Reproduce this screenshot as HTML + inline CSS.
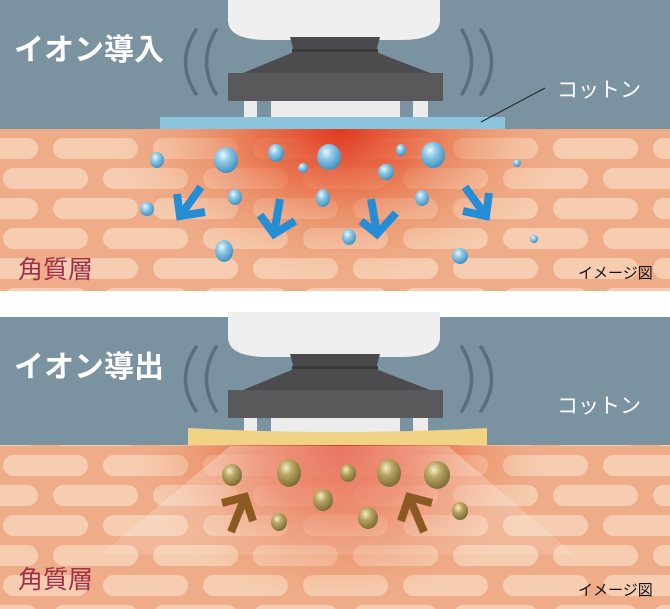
<!DOCTYPE html>
<html><head><meta charset="utf-8"><style>
html,body{margin:0;padding:0;background:#fff}
svg{display:block}
text{font-family:"Liberation Sans","Noto Sans CJK JP",sans-serif}
</style></head><body>
<svg width="670" height="609" viewBox="0 0 670 609" xmlns="http://www.w3.org/2000/svg">
<defs>
<pattern id="bricks" x="0" y="14" width="100" height="60" patternUnits="userSpaceOnUse">
<rect x="-47" y="4" width="85" height="21" rx="10.5" fill="#f6cdb0"/>
<rect x="53" y="4" width="85" height="21" rx="10.5" fill="#f6cdb0"/>
<rect x="3" y="34" width="85" height="21" rx="10.5" fill="#f6cdb0"/>
</pattern>
<pattern id="bricks2" x="0" y="1" width="100" height="60" patternUnits="userSpaceOnUse">
<rect x="-47" y="4" width="85" height="21" rx="10.5" fill="#f6cdb0"/>
<rect x="53" y="4" width="85" height="21" rx="10.5" fill="#f6cdb0"/>
<rect x="3" y="34" width="85" height="21" rx="10.5" fill="#f6cdb0"/>
</pattern>
<radialGradient id="glow1" cx="340" cy="132" r="230" gradientUnits="userSpaceOnUse" gradientTransform="translate(340 132) scale(1 0.65) translate(-340 -132)">
<stop offset="0" stop-color="#e03a22" stop-opacity="1"/>
<stop offset="0.35" stop-color="#e65e38" stop-opacity="0.75"/>
<stop offset="0.7" stop-color="#ea8a60" stop-opacity="0.35"/>
<stop offset="1" stop-color="#eeac88" stop-opacity="0"/>
</radialGradient>
<radialGradient id="glow2" cx="340" cy="448" r="210" gradientUnits="userSpaceOnUse" gradientTransform="translate(340 448) scale(1 0.75) translate(-340 -448)">
<stop offset="0" stop-color="#e03a22" stop-opacity="1"/>
<stop offset="0.4" stop-color="#e65e38" stop-opacity="0.75"/>
<stop offset="0.75" stop-color="#ea8a60" stop-opacity="0.3"/>
<stop offset="1" stop-color="#eeac88" stop-opacity="0"/>
</radialGradient>
<radialGradient id="drop" cx="0.38" cy="0.32" r="0.7">
<stop offset="0" stop-color="#e8f6fc"/>
<stop offset="0.4" stop-color="#8cc8e6"/>
<stop offset="1" stop-color="#3f8fc0"/>
</radialGradient>
<radialGradient id="part" cx="0.38" cy="0.32" r="0.7">
<stop offset="0" stop-color="#f4eec0"/>
<stop offset="0.4" stop-color="#b8a464"/>
<stop offset="1" stop-color="#7a6a30"/>
</radialGradient>
<linearGradient id="beam" x1="0" y1="0" x2="0" y2="1">
<stop offset="0" stop-color="#fff" stop-opacity="0.3"/>
<stop offset="1" stop-color="#fff" stop-opacity="0.12"/>
</linearGradient>
<g id="device">
<path d="M228 -5 H440 V20 Q440 40 400 40 H268 Q228 40 228 20 Z" fill="#efefef"/>
<path d="M290 37 H380 L376 52 H294 Z" fill="#4a4a4c"/>
<rect x="292" y="49" width="86" height="4" fill="#3a3a3c"/>
<path d="M294 52 H376 L430 73 H243 Z" fill="#4c4c4e"/>
<rect x="228" y="73" width="215" height="28" fill="#59595b"/>
<rect x="244" y="101" width="13" height="16" fill="#ececec"/>
<rect x="271" y="101" width="129" height="16" fill="#ececec"/>
<rect x="413" y="101" width="15" height="16" fill="#ececec"/>
<g fill="none" stroke="#56707e" stroke-width="3.5" stroke-linecap="round">
<path d="M196 30 Q175 62 196 94"/><path d="M216 30 Q197 62 216 94"/>
<path d="M462 30 Q481 62 462 94"/><path d="M481 30 Q502 62 481 94"/>
</g>
</g>
</defs>

<!-- TOP PANEL -->
<rect x="0" y="0" width="670" height="130" fill="#7b93a0"/>
<rect x="0" y="129" width="670" height="162" fill="#eeac88"/>
<rect x="0" y="129" width="670" height="162" fill="url(#bricks)"/>
<rect x="0" y="129" width="670" height="162" fill="url(#glow1)"/>
<use href="#device"/>
<rect x="160" y="117" width="345" height="12" fill="#8cc4de"/>
<line x1="545" y1="88" x2="481" y2="122" stroke="#222" stroke-width="1"/>
<text x="14" y="60" font-size="30" font-weight="bold" fill="#fff">イオン導入</text>
<text x="557" y="97" font-size="21" fill="#fff">コットン</text>
<text x="18" y="278" font-size="25" fill="#a03048">角質層</text>
<text x="578" y="278" font-size="15" fill="#111">イメージ図</text>
<g fill="url(#drop)">
<ellipse cx="157" cy="160" rx="7" ry="8"/><ellipse cx="226" cy="160" rx="12" ry="13"/>
<ellipse cx="276" cy="153" rx="8" ry="9"/><ellipse cx="329" cy="157" rx="12" ry="13"/>
<ellipse cx="401" cy="150" rx="5" ry="6"/><ellipse cx="433" cy="155" rx="12" ry="13"/>
<ellipse cx="303" cy="168" rx="5" ry="5"/><ellipse cx="386" cy="172" rx="8" ry="8"/>
<ellipse cx="517" cy="163" rx="4" ry="4"/><ellipse cx="235" cy="197" rx="7" ry="8"/>
<ellipse cx="323" cy="198" rx="7" ry="9"/><ellipse cx="422" cy="198" rx="7" ry="8"/>
<ellipse cx="147" cy="209" rx="7" ry="7"/><ellipse cx="349" cy="237" rx="7" ry="8"/>
<ellipse cx="224" cy="251" rx="9" ry="11"/><ellipse cx="460" cy="256" rx="8" ry="8"/>
<ellipse cx="534" cy="239" rx="4" ry="4"/>
</g>
<g fill="none" stroke="#238ed6" stroke-width="8" stroke-linejoin="miter" stroke-miterlimit="10">
<path d="M201 187 L180 216 M177 194 L180 216 L205 212"/>
<path d="M280 199 L274 234 M260 215 L274 234 L295 221"/>
<path d="M371 199 L377 234 M361 221 L377 234 L396 213"/>
<path d="M465 187 L486 216 M463 211 L486 216 L489 193"/>
</g>

<!-- gap -->
<rect x="0" y="291" width="670" height="27" fill="#fff"/>

<!-- BOTTOM PANEL -->
<rect x="0" y="317" width="670" height="130" fill="#7b93a0"/>
<rect x="0" y="445" width="670" height="164" fill="#eeac88"/>
<rect x="0" y="445" width="670" height="164" fill="url(#bricks2)"/>
<rect x="0" y="445" width="670" height="164" fill="url(#glow2)"/>
<path d="M230 446 H448 L575 555 H100 Z" fill="url(#beam)"/>
<use href="#device" transform="translate(0 317)"/>
<path d="M188 428 Q338 436 487 428 V445 H188 Z" fill="#f1d385"/>
<text x="14" y="377" font-size="30" font-weight="bold" fill="#fff">イオン導出</text>
<text x="557" y="413" font-size="21" fill="#fff">コットン</text>
<text x="18" y="588" font-size="25" fill="#a03048">角質層</text>
<text x="578" y="595" font-size="15" fill="#111">イメージ図</text>
<g fill="url(#part)">
<ellipse cx="232" cy="475" rx="10" ry="11"/><ellipse cx="289" cy="473" rx="12" ry="14"/>
<ellipse cx="348" cy="473" rx="8" ry="9"/><ellipse cx="389" cy="473" rx="12" ry="14"/>
<ellipse cx="437" cy="475" rx="13" ry="14"/><ellipse cx="323" cy="500" rx="10" ry="11"/>
<ellipse cx="460" cy="511" rx="8" ry="9"/><ellipse cx="279" cy="522" rx="8" ry="9"/>
<ellipse cx="368" cy="518" rx="10" ry="11"/>
</g>
<g fill="none" stroke="#8a5a22" stroke-width="8" stroke-miterlimit="10">
<path d="M231 532 L245 497 M222 503 L245 497 L253 521"/>
<path d="M424 532 L409 497 M432 503 L409 497 L401 521"/>
</g>
</svg>
</body></html>
